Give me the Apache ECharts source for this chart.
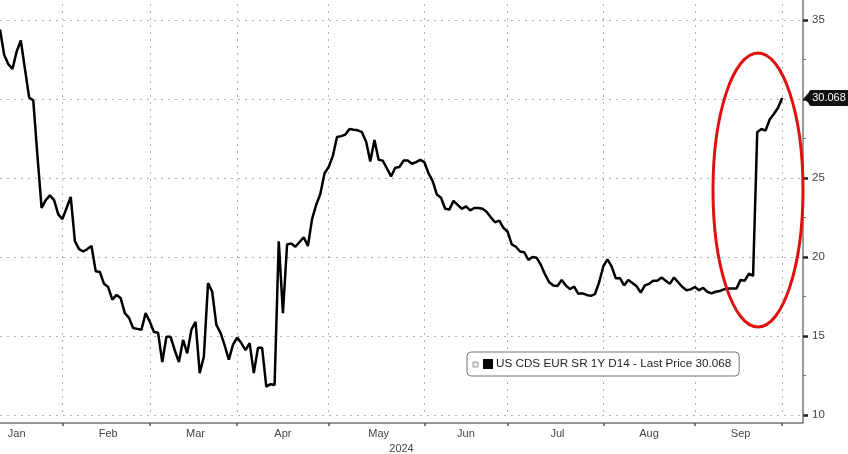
<!DOCTYPE html>
<html><head><meta charset="utf-8">
<script src="https://cdn.jsdelivr.net/npm/echarts@6/dist/echarts.min.js"></script>
<style>html,body{margin:0;padding:0;background:#fff}#c{width:848px;height:454px}</style>
</head><body><div id="c"></div>
<script>
// ---- data ----
const seriesName = 'US CDS EUR SR 1Y D14 - Last Price 30.068';
const yearLabel = '2024';
const calendarStart = '2024-01-01';
const firstDate = '2024-01-11';
const axisEndDate = '2024-10-08';
const monthLabels = ['Jan', 'Feb', 'Mar', 'Apr', 'May', 'Jun', 'Jul', 'Aug', 'Sep'];
const yMin = 10, yMax = 40, yInterval = 5;
const lastPrice = 30.068;
// daily (weekday) values from 2024-01-11 to 2024-10-01
const values = [
  34.4, 32.8, 32.2, 31.9, 33.0, 33.7, 31.9, 30.1, 29.9, 26.4,
  23.1, 23.6, 23.9, 23.6, 22.7, 22.4, 23.1, 23.8, 21.0, 20.5,
  20.35, 20.5, 20.7, 19.1, 19.05, 18.3, 18.1, 17.3, 17.6, 17.4,
  16.45, 16.15, 15.5, 15.45, 15.4, 16.45, 15.9, 15.25, 15.2, 13.35,
  14.95, 14.95, 14.1, 13.35, 14.75, 13.9, 15.4, 15.9, 12.65, 13.7,
  18.35, 17.8, 15.7, 15.2, 14.4, 13.5, 14.45, 14.9, 14.55, 14.1,
  14.55, 12.65, 14.25, 14.25, 11.8, 11.95, 11.9, 21.0, 16.45, 20.8,
  20.85, 20.65, 20.95, 21.25, 20.7, 22.4, 23.3, 24.0, 25.3, 25.7,
  26.4, 27.6, 27.65, 27.75, 28.1, 28.05, 28.02, 27.9, 27.3, 26.05,
  27.4, 26.16, 26.1, 25.6, 25.1, 25.65, 25.7, 26.1, 26.1, 25.9,
  26.0, 26.15, 26.0, 25.3, 24.8, 23.95, 23.75, 23.05, 23.0, 23.55,
  23.3, 23.05, 23.2, 22.95, 23.1, 23.1, 23.05, 22.85, 22.5, 22.2,
  22.3, 21.85, 21.6, 20.8, 20.65, 20.35, 20.3, 19.82, 20.0, 19.95,
  19.5, 18.9, 18.4, 18.2, 18.17, 18.55, 18.2, 17.97, 18.13, 17.67,
  17.7, 17.6, 17.54, 17.65, 18.4, 19.4, 19.85, 19.4, 18.66, 18.66,
  18.2, 18.55, 18.35, 18.15, 17.75, 18.2, 18.3, 18.5, 18.5, 18.7,
  18.5, 18.3, 18.7, 18.4, 18.1, 17.9, 17.95, 18.1, 17.9, 18.05,
  17.8, 17.7, 17.8, 17.85, 17.95, 18.0, 18.0, 18.0, 18.55, 18.5,
  18.95, 18.8, 27.9, 28.1, 28.0, 28.7, 29.05, 29.45, 30.068
];

// ---- weekday calendar axis ----
function weekdays(from, to) {
  const out = [];
  const d = new Date(from + 'T00:00:00Z');
  const end = new Date(to + 'T00:00:00Z');
  while (d <= end) {
    const wd = d.getUTCDay();
    if (wd !== 0 && wd !== 6) out.push(d.toISOString().slice(0, 10));
    d.setUTCDate(d.getUTCDate() + 1);
  }
  return out;
}
const allDays = weekdays(calendarStart, axisEndDate);
const offset = allDays.indexOf(firstDate);
const categories = allDays.slice(offset);
const monthStartAll = [];
allDays.forEach((d, i) => {
  if (i === 0 || d.slice(5, 7) !== allDays[i - 1].slice(5, 7)) monthStartAll.push(i);
});
const boundarySet = new Set(monthStartAll.map(i => i - offset).filter(i => i > 0));
const labelMap = {};
monthLabels.forEach((m, k) => {
  const a = monthStartAll[k], b = monthStartAll[k + 1];
  labelMap[Math.round((a + b) / 2) - offset] = m;
});

const chart = echarts.init(document.getElementById('c'), null, { renderer: 'canvas' });
const FONT = 'Liberation Sans, Arial, sans-serif';
chart.setOption({
  animation: false,
  backgroundColor: '#ffffff',
  grid: { left: 0, right: 45, top: -59, bottom: 39, containLabel: false, outerBoundsMode: 'none' },
  xAxis: {
    type: 'category',
    data: categories,
    boundaryGap: false,
    offset: 8,
    name: yearLabel,
    nameLocation: 'middle',
    nameGap: 16,
    nameTextStyle: { fontFamily: FONT, fontSize: 11, color: '#444' },
    axisLine: { show: true, lineStyle: { color: '#777', width: 1.5 } },
    axisTick: { show: true, length: 3, interval: (i) => boundarySet.has(i), lineStyle: { color: '#555', width: 1.5 } },
    axisLabel: {
      show: true, margin: 5, fontFamily: FONT, fontSize: 11, color: '#444',
      interval: (i) => labelMap[i] !== undefined,
      formatter: (v, i) => labelMap[i] || ''
    },
    splitLine: { show: true, interval: (i) => boundarySet.has(i), lineStyle: { color: '#b0b0b0', type: [2, 5], width: 1 } }
  },
  yAxis: {
    type: 'value',
    position: 'right',
    min: yMin, max: yMax, interval: yInterval,
    axisLine: { show: true, lineStyle: { color: '#777', width: 1.5 } },
    axisTick: { show: true, length: 5, lineStyle: { color: '#222', width: 2.5 } },
    minorTick: { show: true, splitNumber: 2, length: 3, lineStyle: { color: '#777', width: 1 } },
    axisLabel: { margin: 9, fontFamily: FONT, fontSize: 11.5, color: '#444' },
    splitLine: { show: true, lineStyle: { color: '#b0b0b0', type: [2, 5], width: 1 } }
  },
  legend: {
    left: 467, top: 352,
    data: [{ name: seriesName, icon: 'rect' }],
    itemWidth: 10, itemHeight: 10, itemGap: 0,
    padding: [6, 8, 6, 16],
    borderColor: '#777', borderWidth: 1, borderRadius: 4,
    backgroundColor: '#fff',
    textStyle: { fontFamily: FONT, fontSize: 11.7, color: '#222', padding: [0, 0, 0, -2] }
  },
  series: [{
    name: seriesName,
    type: 'line',
    data: values,
    symbol: 'none',
    color: '#000',
    lineStyle: { color: '#000', width: 2.5 },
    endLabel: {
      show: true,
      formatter: () => lastPrice.toFixed(3),
      distance: 27,
      backgroundColor: '#111',
      color: '#fff',
      fontFamily: FONT,
      fontSize: 11,
      padding: [3, 3, 2, 3],
      borderRadius: 2
    }
  }],
  graphic: [
    { type: 'ellipse', shape: { cx: 758, cy: 190, rx: 45, ry: 137 }, style: { fill: 'none', stroke: '#e01010', lineWidth: 3 }, z: 100 },
    { type: 'polygon', shape: { points: [[804, 98], [810, 91], [810, 105]] }, style: { fill: '#111' }, z: 100 },
    { type: 'line', shape: { x1: 803, y1: 415, x2: 803, y2: 423 }, style: { stroke: '#777', lineWidth: 1.5 }, z: 100 },
    { type: 'rect', shape: { x: 473, y: 362, width: 5, height: 5 }, style: { fill: '#eee', stroke: '#999', lineWidth: 1 }, z: 100 }
  ]
});
</script></body></html>
